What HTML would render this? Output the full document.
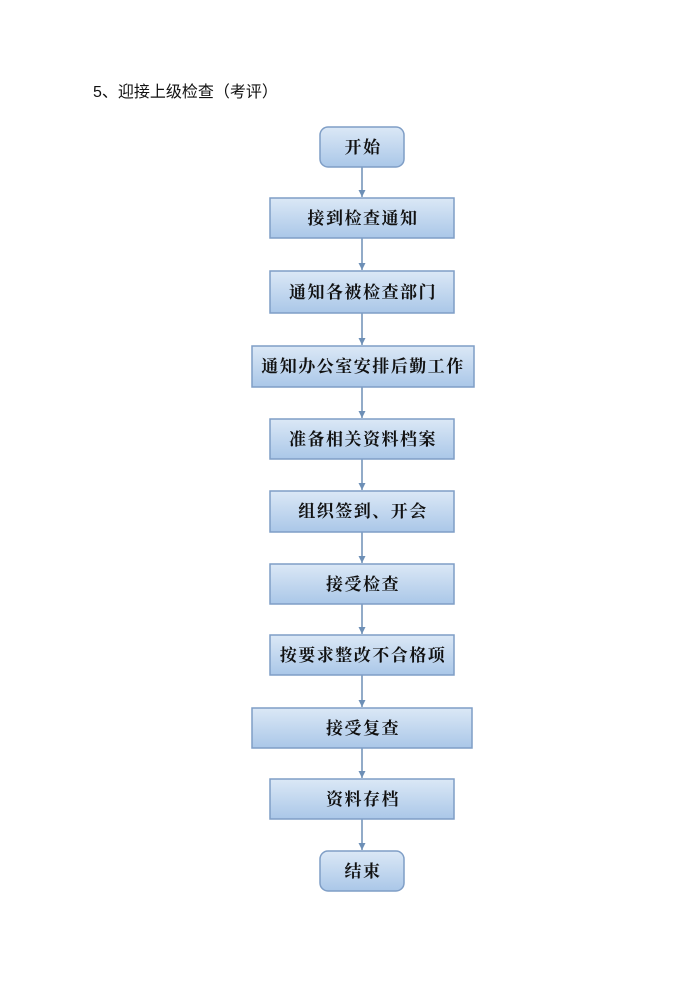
<!DOCTYPE html>
<html><head><meta charset="utf-8"><style>
html,body{margin:0;padding:0;background:#fff;}
svg{display:block}
</style></head><body>
<svg width="700" height="990" viewBox="0 0 700 990" xmlns="http://www.w3.org/2000/svg">
<defs>
<linearGradient id="g" x1="0" y1="0" x2="0" y2="1">
<stop offset="0" stop-color="#dbe8f6"/>
<stop offset="1" stop-color="#aac7e8"/>
</linearGradient>
<marker id="a" markerWidth="8" markerHeight="7" refX="7" refY="3.5" orient="auto" markerUnits="userSpaceOnUse">
<path d="M0,0 L7,3.5 L0,7 z" fill="#6d8fb6"/>
</marker>
</defs>
<text x="93" y="97" font-family="Liberation Sans, Noto Sans CJK SC, sans-serif" font-size="16" fill="#111">5、迎接上级检查（考评）</text>
<g stroke="#6d8fb6" stroke-width="1.5" marker-end="url(#a)">
<line x1="362" y1="167" x2="362" y2="197"/>
<line x1="362" y1="238" x2="362" y2="270"/>
<line x1="362" y1="313" x2="362" y2="345"/>
<line x1="362" y1="387" x2="362" y2="418"/>
<line x1="362" y1="459" x2="362" y2="490"/>
<line x1="362" y1="532" x2="362" y2="563"/>
<line x1="362" y1="604" x2="362" y2="634"/>
<line x1="362" y1="675" x2="362" y2="707"/>
<line x1="362" y1="748" x2="362" y2="778"/>
<line x1="362" y1="819" x2="362" y2="850"/>
</g>
<g fill="url(#g)" stroke="#7f9ec6" stroke-width="1.5">
<rect x="320" y="127" width="84" height="40" rx="8"/>
<rect x="270" y="198" width="184" height="40"/>
<rect x="270" y="271" width="184" height="42"/>
<rect x="252" y="346" width="222" height="41"/>
<rect x="270" y="419" width="184" height="40"/>
<rect x="270" y="491" width="184" height="41"/>
<rect x="270" y="564" width="184" height="40"/>
<rect x="270" y="635" width="184" height="40"/>
<rect x="252" y="708" width="220" height="40"/>
<rect x="270" y="779" width="184" height="40"/>
<rect x="320" y="851" width="84" height="40" rx="8"/>
</g>
<g font-family="Liberation Serif, Noto Serif CJK SC, serif" font-weight="bold" font-size="17" fill="#111" text-anchor="middle" letter-spacing="1.5">
<text x="363" y="153">开始</text>
<text x="363" y="224">接到检查通知</text>
<text x="363" y="298">通知各被检查部门</text>
<text x="363" y="372">通知办公室安排后勤工作</text>
<text x="363" y="445">准备相关资料档案</text>
<text x="363" y="517">组织签到、开会</text>
<text x="363" y="590">接受检查</text>
<text x="363" y="661">按要求整改不合格项</text>
<text x="363" y="734">接受复查</text>
<text x="363" y="805">资料存档</text>
<text x="363" y="877">结束</text>
</g>
</svg>
</body></html>
